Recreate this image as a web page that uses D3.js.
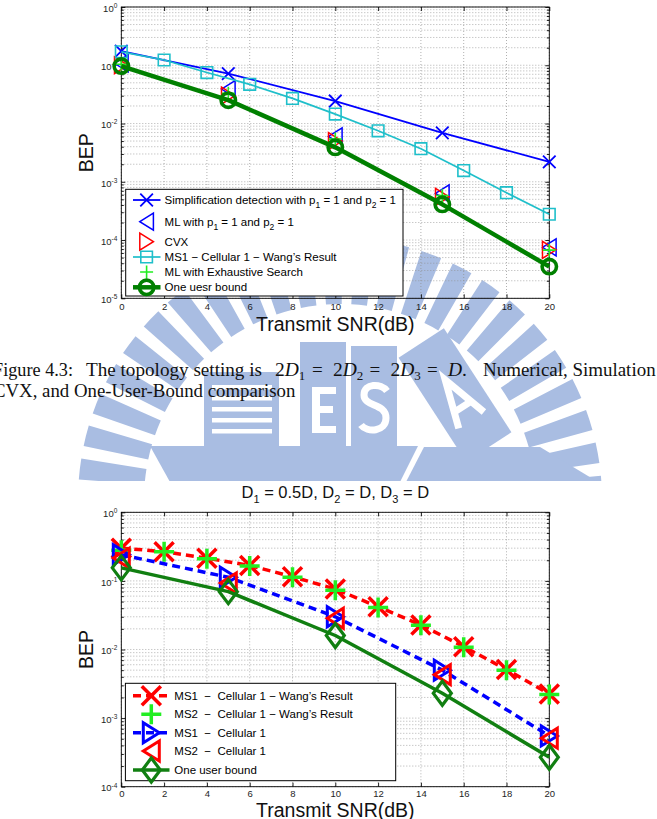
<!DOCTYPE html>
<html>
<head>
<meta charset="utf-8">
<script src="https://d3js.org/d3.v7.min.js"></script>
<style>
  html, body { margin: 0; padding: 0; background: #fff; }
  svg { display: block; }
</style>
</head>
<body>
<svg id="page" width="657" height="819"></svg>
<script>
// =========================================================
//  Two BEP-vs-SNR figures from a thesis page (log y axis),
//  with the caption in between and the faint school watermark.
// =========================================================

// ---- shared x values ----
const snrEven  = [0, 2, 4, 6, 8, 10, 12, 14, 16, 18, 20];
const snrFive  = [0, 5, 10, 15, 20];
const snrTicks = [0, 2, 4, 6, 8, 10, 12, 14, 16, 18, 20];

// ---- Figure 4.3 : 2D1 = 2D2 = 2D3 = D ----
const simpDetectBep = [0.175, 0.072, 0.0243, 0.0069, 0.0022];
const mlP1P2Bep     = [0.108, 0.039, 0.0060, 0.00063, 0.000075];
const cvxBep        = [0.100, 0.030, 0.0050, 0.00055, 0.000068];
const wangTopBep    = [0.170, 0.123, 0.075, 0.047, 0.027, 0.0145, 0.0075, 0.0037, 0.00156, 0.00065, 0.000277];
const mlExhaustBep  = [0.104, 0.033, 0.0054, 0.00058, 0.000067];
const oneUserTopBep = [0.097, 0.0252, 0.0039, 0.00041, 0.000035];

// ---- second figure : D1 = 0.5D, D2 = D, D3 = D ----
const wangMs1Bep    = [0.30, 0.267, 0.214, 0.168, 0.115, 0.076, 0.042, 0.0228, 0.011, 0.0051, 0.00225];
const wangMs2Bep    = [0.28, 0.265, 0.210, 0.165, 0.113, 0.073, 0.041, 0.0225, 0.0108, 0.0050, 0.0022];
const ms1CellBep    = [0.24, 0.113, 0.030, 0.0050, 0.00055];
const ms2CellBep    = [0.215, 0.093, 0.0285, 0.0043, 0.00051];
const oneUserBotBep = [0.155, 0.0697, 0.0160, 0.0023, 0.000268];

// ---- legend labels (strings, {sub} = subscript) ----
const topLabels = [
  ['Simplification detection with p', { sub: '1' }, ' = 1 and p', { sub: '2' }, ' = 1'],
  ['ML with p', { sub: '1' }, ' = 1 and p', { sub: '2' }, ' = 1'],
  ['CVX'],
  ['MS1 \u2212 Cellular 1 \u2212 Wang\u2019s Result'],
  ['ML with Exhaustive Search'],
  ['One uesr bound']
];
const bottomLabels = [
  ['MS1  \u2212  Cellular 1 \u2212 Wang\u2019s Result'],
  ['MS2  \u2212  Cellular 1 \u2212 Wang\u2019s Result'],
  ['MS1  \u2212  Cellular 1'],
  ['MS2  \u2212  Cellular 1'],
  ['One user bound']
];

const W = 657, H = 819;
const SANS = '"Liberation Sans", Arial, Helvetica, sans-serif';
const SERIF = '"Liberation Serif", "Times New Roman", serif';
const svg = d3.select('#page');

// ---- marker shapes (centered at 0,0) ----
function markerPath(type, s) {
  switch (type) {
    case 'x':         return `M${-s},${-s}L${s},${s}M${-s},${s}L${s},${-s}`;
    case 'plus':      return `M${-s},0L${s},0M0,${-s}L0,${s}`;
    case 'tri-left':  return `M${-s * 0.8},0L${s * 0.8},${-s}L${s * 0.8},${s}Z`;
    case 'tri-right': return `M${s * 0.8},0L${-s * 0.8},${-s}L${-s * 0.8},${s}Z`;
    case 'square':    return `M${-s},${-s}H${s}V${s}H${-s}Z`;
    case 'diamond':   return `M0,${-s}L${s * 0.75},0L0,${s}L${-s * 0.75},0Z`;
    case 'circle':    return `M${-s},0A${s},${s} 0 1,0 ${s},0A${s},${s} 0 1,0 ${-s},0Z`;
  }
  return '';
}

// text with inline subscripts
function richText(sel, parts, subSize, shift) {
  let down = false;
  parts.forEach(p => {
    if (typeof p === 'string') {
      sel.append('tspan').attr('dy', down ? -shift : null).text(p);
      down = false;
    } else {
      sel.append('tspan').attr('dy', shift).attr('font-size', subSize).text(p.sub);
      down = true;
    }
  });
}

// ---- watermark (drawn first, sits under the upper figure) ----
// letters of the logo are drawn as white shapes, not text
function drawWatermark() {
  const col = '#a9bde2';
  svg.append('clipPath').attr('id', 'wmClip')
    .append('rect').attr('x', 0).attr('y', 0).attr('width', W).attr('height', 481);
  const g = svg.append('g').attr('clip-path', 'url(#wmClip)').attr('fill', col);

  const cx = 340, cy = 500;
  const arc = d3.arc().innerRadius(196).outerRadius(262);
  d3.range(172, 372, 7.4).forEach(a => {
    const th = (a + 90) * Math.PI / 180, half = 2.3 * Math.PI / 180;
    g.append('path').attr('transform', `translate(${cx},${cy})`)
      .attr('d', arc({ startAngle: th - half, endAngle: th + half }));
  });

  // striped building
  g.append('rect').attr('x', 204).attr('y', 372).attr('width', 75).attr('height', 75);
  d3.range(385, 440, 11).forEach(yy => {
    g.append('rect').attr('x', 212).attr('y', yy).attr('width', 60).attr('height', 4.5).attr('fill', '#fff');
  });
  // E block
  g.append('rect').attr('x', 300).attr('y', 342).attr('width', 46).attr('height', 105);
  g.append('path').attr('fill', '#fff')
    .attr('d', 'M312,387H336V394H320V406H333V413H320V426H336V433H312Z');
  // S block
  g.append('rect').attr('x', 351).attr('y', 346).attr('width', 46).attr('height', 101);
  g.append('path').attr('fill', 'none').attr('stroke', '#fff').attr('stroke-width', 7)
    .attr('d', 'M387,391C381,383 364,383 364,395C364,407 386,403 386,418C386,432 367,433 361,425');
  // leaning A block
  const ga = g.append('g').attr('transform', 'translate(455,395) rotate(-33)');
  ga.append('rect').attr('x', -27).attr('y', -62).attr('width', 54).attr('height', 124);
  ga.append('path').attr('fill', 'none').attr('stroke', '#fff').attr('stroke-width', 7)
    .attr('d', 'M-15,30L0,-18L15,30M-9,14H9');
  // hull
  g.append('path').attr('d', 'M150,446L418,446L400,482L170,482Z');
  g.append('path').attr('d', 'M424,447L540,447L598,482L406,482Z');
}

// ---- one log-scale chart ----
function drawChart(cfg) {
  const g = svg.append('g').attr('transform', `translate(${cfg.left},${cfg.top})`);
  const x = d3.scaleLinear().domain([0, 20]).range([0, cfg.width]);
  const y = d3.scaleLog().domain([cfg.yMin, 1]).range([cfg.height, 0]);

  const kMin = Math.round(Math.log10(cfg.yMin));
  const decades = d3.range(kMin, 1);
  const majors = decades.map(k => Math.pow(10, k));
  const minors = [];
  decades.slice(0, -1).forEach(k => {
    for (let m = 2; m <= 9; m++) minors.push(m * Math.pow(10, k));
  });

  // dotted grid
  const grid = g.append('g').attr('stroke', '#8f8f8f').attr('stroke-width', 0.7).attr('stroke-dasharray', '1,2');
  grid.selectAll('line.gy').data(majors.concat(minors)).join('line').attr('class', 'gy')
    .attr('x1', 0).attr('x2', cfg.width).attr('y1', d => y(d)).attr('y2', d => y(d));
  grid.selectAll('line.gx').data(snrTicks).join('line').attr('class', 'gx')
    .attr('y1', 0).attr('y2', cfg.height).attr('x1', d => x(d)).attr('x2', d => x(d));

  // axes (ticks inward, box on)
  const axes = [
    g.append('g').attr('transform', `translate(0,${cfg.height})`)
      .call(d3.axisBottom(x).tickValues(snrTicks).tickSize(-4).tickPadding(cfg.xPad).tickFormat(d3.format('d'))),
    g.append('g').call(d3.axisTop(x).tickValues(snrTicks).tickSize(-4).tickFormat('')),
    g.append('g').attr('class', 'ylab')
      .call(d3.axisLeft(y).tickValues(majors).tickSize(-4).tickPadding(4).tickFormat(() => '')),
    g.append('g').call(d3.axisLeft(y).tickValues(minors).tickSize(-2.5).tickFormat('')),
    g.append('g').attr('transform', `translate(${cfg.width},0)`)
      .call(d3.axisRight(y).tickValues(majors).tickSize(-4).tickFormat('')),
    g.append('g').attr('transform', `translate(${cfg.width},0)`)
      .call(d3.axisRight(y).tickValues(minors).tickSize(-2.5).tickFormat(''))
  ];
  axes.forEach(a => {
    a.select('.domain').remove();
    a.attr('font-family', SANS).attr('font-size', 9.5).attr('color', '#1e1e1e');
  });
  g.select('.ylab').selectAll('.tick text').each(function (d) {
    const t = d3.select(this).attr('dy', '0.45em');
    const k = Math.round(Math.log10(d));
    t.append('tspan').text('10');
    t.append('tspan').attr('dy', '-0.6em').attr('font-size', 6.5).text(k === 0 ? '0' : '-' + Math.abs(k));
  });

  g.append('rect').attr('width', cfg.width).attr('height', cfg.height)
    .attr('fill', 'none').attr('stroke', '#000').attr('stroke-width', 0.9);

  // series
  const line = d3.line().x(d => x(d.snr)).y(d => y(d.bep));
  cfg.series.forEach(s => {
    const pts = s.snr.map((v, i) => ({ snr: v, bep: s.bep[i] }));
    if (s.lineWidth) {
      g.append('path').datum(pts)
        .attr('fill', 'none').attr('stroke', s.color).attr('stroke-width', s.lineWidth)
        .attr('stroke-dasharray', s.dash || null).attr('stroke-linejoin', 'round')
        .attr('d', line);
    }
    g.append('g').selectAll('path').data(pts).join('path')
      .attr('transform', d => `translate(${x(d.snr)},${y(d.bep)})`)
      .attr('d', markerPath(s.marker, s.size))
      .attr('fill', 'none').attr('stroke', s.color).attr('stroke-width', s.markerStroke)
      .attr('stroke-linejoin', 'miter');
  });

  // axis labels
  svg.append('text')
    .attr('transform', `translate(${cfg.left - 28.5},${cfg.top + cfg.height / 2}) rotate(-90)`)
    .attr('text-anchor', 'middle').attr('font-family', SANS).attr('font-size', 19.5).attr('fill', '#111')
    .text('BEP');
  svg.append('text')
    .attr('x', cfg.left + cfg.width / 2).attr('y', cfg.xLabelY)
    .attr('text-anchor', 'middle').attr('font-family', SANS).attr('font-size', 19.5).attr('fill', '#111')
    .text('Transmit SNR(dB)');

  // legend
  const L = cfg.legend;
  const lg = svg.append('g').attr('font-family', SANS).attr('font-size', 11.5);
  lg.append('rect').attr('x', L.x).attr('y', L.y).attr('width', L.w).attr('height', L.h)
    .attr('fill', '#fff').attr('stroke', '#000').attr('stroke-width', 1);
  cfg.series.forEach((s, i) => {
    const ry = L.rows[i];
    if (s.lineWidth) {
      lg.append('line').attr('x1', L.lineX0).attr('x2', L.lineX1).attr('y1', ry).attr('y2', ry)
        .attr('stroke', s.color).attr('stroke-width', s.lineWidth).attr('stroke-dasharray', s.dash || null);
    }
    lg.append('path').attr('transform', `translate(${L.markX},${ry})`)
      .attr('d', markerPath(s.marker, s.size))
      .attr('fill', 'none').attr('stroke', s.color).attr('stroke-width', s.markerStroke);
    const t = lg.append('text').attr('x', L.textX).attr('y', ry).attr('dy', '0.35em')
      .attr('fill', '#000').style('white-space', 'pre');
    richText(t, cfg.labels[i], 8.5, 4);
  });
  return g;
}

drawWatermark();

// ---- upper figure ----
drawChart({
  left: 121.3, top: 7, width: 428, height: 291.3, yMin: 1e-5, xLabelY: 330.5, xPad: 5,
  labels: topLabels,
  series: [
    { snr: snrFive, bep: simpDetectBep, color: '#0000ff', lineWidth: 1.8, marker: 'x', size: 6.3, markerStroke: 1.8 },
    { snr: snrFive, bep: mlP1P2Bep, color: '#0000ff', marker: 'tri-left', size: 8.5, markerStroke: 1.5 },
    { snr: snrFive, bep: cvxBep, color: '#ff0000', marker: 'tri-right', size: 8.5, markerStroke: 1.5 },
    { snr: snrEven, bep: wangTopBep, color: '#1fbfca', lineWidth: 1.7, marker: 'square', size: 5.8, markerStroke: 1.6 },
    { snr: snrFive, bep: mlExhaustBep, color: '#22ee22', marker: 'plus', size: 6.5, markerStroke: 1.6 },
    { snr: snrFive, bep: oneUserTopBep, color: '#008000', lineWidth: 4.5, marker: 'circle', size: 7.2, markerStroke: 3.6 }
  ],
  legend: { x: 125.7, y: 189.3, w: 277.3, h: 106.7, rows: [200, 221.7, 241.7, 257, 272, 287.3],
            markX: 146.6, lineX0: 133, lineX1: 160.5, textX: 164.6 }
});

// ---- caption ----
const cap = svg.append('g').attr('font-family', SERIF).attr('font-size', 18).attr('fill', '#111');
function capText(x0, yb, str, len) {
  cap.append('text').attr('x', x0).attr('y', yb)
    .attr('textLength', len).attr('lengthAdjust', 'spacingAndGlyphs').text(str);
}
capText(-7, 376, 'Figure 4.3:', 80);
capText(86, 376, 'The topology setting is', 176);
[[275, '1'], [333, '2'], [390.5, '3']].forEach(([xx, k]) => {
  const t = cap.append('text').attr('x', xx).attr('y', 376).attr('font-size', 19.5);
  t.append('tspan').text('2');
  t.append('tspan').attr('font-style', 'italic').text('D');
  t.append('tspan').attr('dy', 4).attr('font-size', 13).text(k);
});
[312, 369.5, 427].forEach(xx => cap.append('text').attr('x', xx).attr('y', 376).attr('font-size', 19).text('='));
cap.append('text').attr('x', 448).attr('y', 376).attr('font-size', 19.5)
  .call(t => { t.append('tspan').attr('font-style', 'italic').text('D'); t.append('tspan').text('.'); });
capText(483, 376, 'Numerical, Simulation', 172.6);
capText(-7, 397, 'CVX, and One-User-Bound comparison', 302.4);

// ---- lower figure ----
drawChart({
  left: 121.3, top: 512.3, width: 428, height: 274.4, yMin: 1e-4, xLabelY: 816.5, xPad: 3.5,
  labels: bottomLabels,
  series: [
    { snr: snrEven, bep: wangMs1Bep, color: '#ff0000', lineWidth: 3.5, dash: '8,5', marker: 'x', size: 9.5, markerStroke: 3.5 },
    { snr: snrEven, bep: wangMs2Bep, color: '#22ee22', marker: 'plus', size: 10, markerStroke: 3.5 },
    { snr: snrFive, bep: ms1CellBep, color: '#0000ff', lineWidth: 3.5, dash: '8,5', marker: 'tri-right', size: 10, markerStroke: 3 },
    { snr: snrFive, bep: ms2CellBep, color: '#ff0000', marker: 'tri-left', size: 10, markerStroke: 3 },
    { snr: snrFive, bep: oneUserBotBep, color: '#117f11', lineWidth: 3.5, marker: 'diamond', size: 12, markerStroke: 3.2 }
  ],
  legend: { x: 125.4, y: 683.3, w: 270.3, h: 97.4, rows: [695.7, 714.3, 732.7, 751, 770],
            markX: 151.3, lineX0: 133, lineX1: 169.5, textX: 174.3 }
});

// title of lower figure
const ttl = svg.append('text').attr('x', 335.3).attr('y', 498).attr('text-anchor', 'middle')
  .attr('font-family', SANS).attr('font-size', 16.5).attr('fill', '#111');
richText(ttl, ['D', { sub: '1' }, ' = 0.5D, D', { sub: '2' }, ' = D, D', { sub: '3' }, ' = D'], 11, 5);
</script>
</body>
</html>
